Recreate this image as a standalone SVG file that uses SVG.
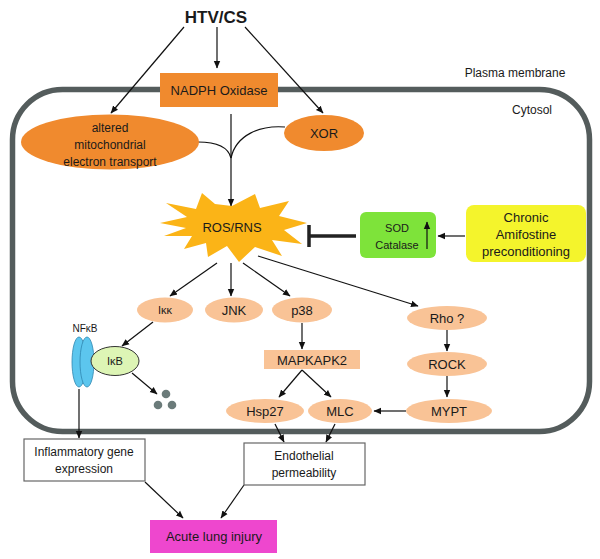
<svg xmlns="http://www.w3.org/2000/svg" width="600" height="559" viewBox="0 0 600 559">
<defs>
<marker id="ah" markerWidth="8" markerHeight="8" refX="7" refY="4" orient="auto" markerUnits="userSpaceOnUse">
<path d="M0,0.8 L7.5,4 L0,7.2 Z" fill="#111"/>
</marker>
</defs>
<style>
text{font-family:"Liberation Sans",Arial,sans-serif;fill:#1a1a1a;text-anchor:middle}
.c{stroke:#111;stroke-width:1.2;fill:none}
.a{marker-end:url(#ah)}
.or{fill:#F08A2E}
.pe{fill:#F9C396}
.t13{font-size:13px}
.t12{font-size:12px}
.t11{font-size:11px}
.box{fill:#fff;stroke:#666;stroke-width:1.2}
</style>
<rect width="600" height="559" fill="#fff"/>
<g id="membrane">
<rect x="12.5" y="89.5" width="577" height="342" rx="50" ry="50" fill="none" stroke="#545C5C" stroke-width="5.5"/>
<text x="515" y="77" class="t12">Plasma membrane</text>
<text x="532" y="114" class="t12">Cytosol</text>
</g>
<g id="connectors">
<path class="c a" d="M184,27 L111,113"/>
<path class="c a" d="M217,27 L217,68"/>
<path class="c a" d="M245,27 L323,113"/>
<path class="c a" d="M231,114 L231,206"/>
<path class="c" d="M198,142 C216,142 228,146 231,158"/>
<path class="c" d="M285,127 C260,125 236,135 231,158"/>
<path class="c a" d="M217,263 L170,296"/>
<path class="c a" d="M231,263 L231,296"/>
<path class="c a" d="M243,263 L290,296"/>
<path class="c a" d="M258,256 L418,306"/>
<path class="c a" d="M153,322 L122,346"/>
<path class="c a" d="M132,373 L157,394"/>
<path class="c a" d="M302,323 L302,349"/>
<path class="c a" d="M447,330 L447,351"/>
<path class="c a" d="M302,370 L279,397"/>
<path class="c a" d="M302,370 L331,397"/>
<path class="c a" d="M447,376 L447,397"/>
<path class="c a" d="M406,411 L374,411"/>
<path class="c a" d="M79,389 L79,438"/>
<path class="c a" d="M275,424 L284,442"/>
<path class="c a" d="M335,424 L326,442"/>
<path class="c a" d="M145,482 L183,518"/>
<path class="c a" d="M244,485 L221,518"/>
<path class="c a" d="M465,236 L438,236"/>
<path d="M356,236 L309,236 M309,225 L309,247" stroke="#222" stroke-width="3.5" fill="none"/>
</g>
<g id="htvcs"><text x="216" y="23" style="font-size:17px;font-weight:bold">HTV/CS</text></g>
<g id="nadph">
<rect x="160" y="73" width="118" height="34" class="or"/>
<text x="219" y="95" class="t13">NADPH Oxidase</text>
</g>
<g id="mito">
<ellipse cx="110" cy="142" rx="89" ry="27.5" class="or"/>
<text x="110" y="132" class="t12">altered</text>
<text x="110" y="149" class="t12">mitochondrial</text>
<text x="110" y="166" class="t12">electron transport</text>
</g>
<g id="xor">
<ellipse cx="324" cy="133" rx="40" ry="18" class="or"/>
<text x="324" y="138" class="t13">XOR</text>
</g>
<g id="rosrns">
<polygon fill="#FBB417" points="160,223 187,217 166,203 196,209 202,193 215,204 232,206 255,194 260,208 289,201 279,216 307,223 284,230 302,244 272,240 282,256 255,247 239,262 227,246 208,257 206,243 184,249 192,236 164,236 186,228"/>
<text x="232" y="232" class="t13">ROS/RNS</text>
</g>
<g id="sod">
<rect x="360" y="212" width="76" height="46" rx="6" fill="#7EE33A"/>
<text x="397" y="232" class="t11">SOD</text>
<text x="397" y="249" class="t11">Catalase</text>
<path class="c a" d="M427,249 L427,222"/>
</g>
<g id="amifostine">
<rect x="466" y="205" width="120" height="57" rx="8" fill="#F4F42C"/>
<text x="526" y="222" class="t13">Chronic</text>
<text x="526" y="239" class="t13">Amifostine</text>
<text x="526" y="256" class="t13">preconditioning</text>
</g>
<g id="ikk">
<ellipse cx="165" cy="310" rx="28" ry="12.5" class="pe"/>
<text x="165" y="314" class="t11">Iκκ</text>
</g>
<g id="jnk">
<ellipse cx="234" cy="310" rx="29" ry="12.5" class="pe"/>
<text x="234" y="315" class="t13">JNK</text>
</g>
<g id="p38">
<ellipse cx="302" cy="310" rx="30" ry="12.5" class="pe"/>
<text x="302" y="315" class="t13">p38</text>
</g>
<g id="rho">
<ellipse cx="447" cy="318" rx="40" ry="12" class="pe"/>
<text x="447" y="323" class="t13">Rho ?</text>
</g>
<g id="nfkb">
<text x="85" y="332" style="font-size:10px">NFκB</text>
<ellipse cx="79" cy="362" rx="7" ry="25" fill="#5CC6EE" stroke="#2E86B0" stroke-width="0.8"/>
<ellipse cx="87" cy="362" rx="7" ry="25" fill="#5CC6EE" stroke="#2E86B0" stroke-width="0.8"/>
</g>
<g id="ikb">
<ellipse cx="115" cy="361" rx="24" ry="14.5" fill="#DDF5B5" stroke="#333" stroke-width="1"/>
<text x="115" y="365" class="t11">IκB</text>
</g>
<g id="degraded">
<circle cx="166" cy="394" r="4.3" fill="#6B7B7A"/>
<circle cx="158" cy="405" r="4.3" fill="#6B7B7A"/>
<circle cx="172" cy="405" r="4.3" fill="#6B7B7A"/>
</g>
<g id="mapkapk2">
<rect x="264" y="350" width="96" height="19" class="pe"/>
<text x="312" y="364.5" class="t13">MAPKAPK2</text>
</g>
<g id="rock">
<ellipse cx="447" cy="364" rx="40" ry="12" class="pe"/>
<text x="447" y="369" class="t13">ROCK</text>
</g>
<g id="hsp27">
<ellipse cx="265" cy="411" rx="39" ry="12" class="pe"/>
<text x="265" y="416" class="t13">Hsp27</text>
</g>
<g id="mlc">
<ellipse cx="340" cy="411" rx="32" ry="12" class="pe"/>
<text x="340" y="416" class="t13">MLC</text>
</g>
<g id="mypt">
<ellipse cx="449" cy="411" rx="43" ry="12" class="pe"/>
<text x="449" y="416" class="t13">MYPT</text>
</g>
<g id="inflammatory">
<rect x="24" y="439" width="121" height="42" class="box"/>
<text x="84" y="456" class="t12">Inflammatory gene</text>
<text x="84" y="473" class="t12">expression</text>
</g>
<g id="endothelial">
<rect x="244" y="443" width="121" height="42" class="box"/>
<text x="304" y="460" class="t12">Endothelial</text>
<text x="304" y="477" class="t12">permeability</text>
</g>
<g id="ali">
<rect x="150" y="520" width="127" height="33" fill="#EE47CE"/>
<text x="214" y="541" class="t13">Acute lung injury</text>
</g>
</svg>
